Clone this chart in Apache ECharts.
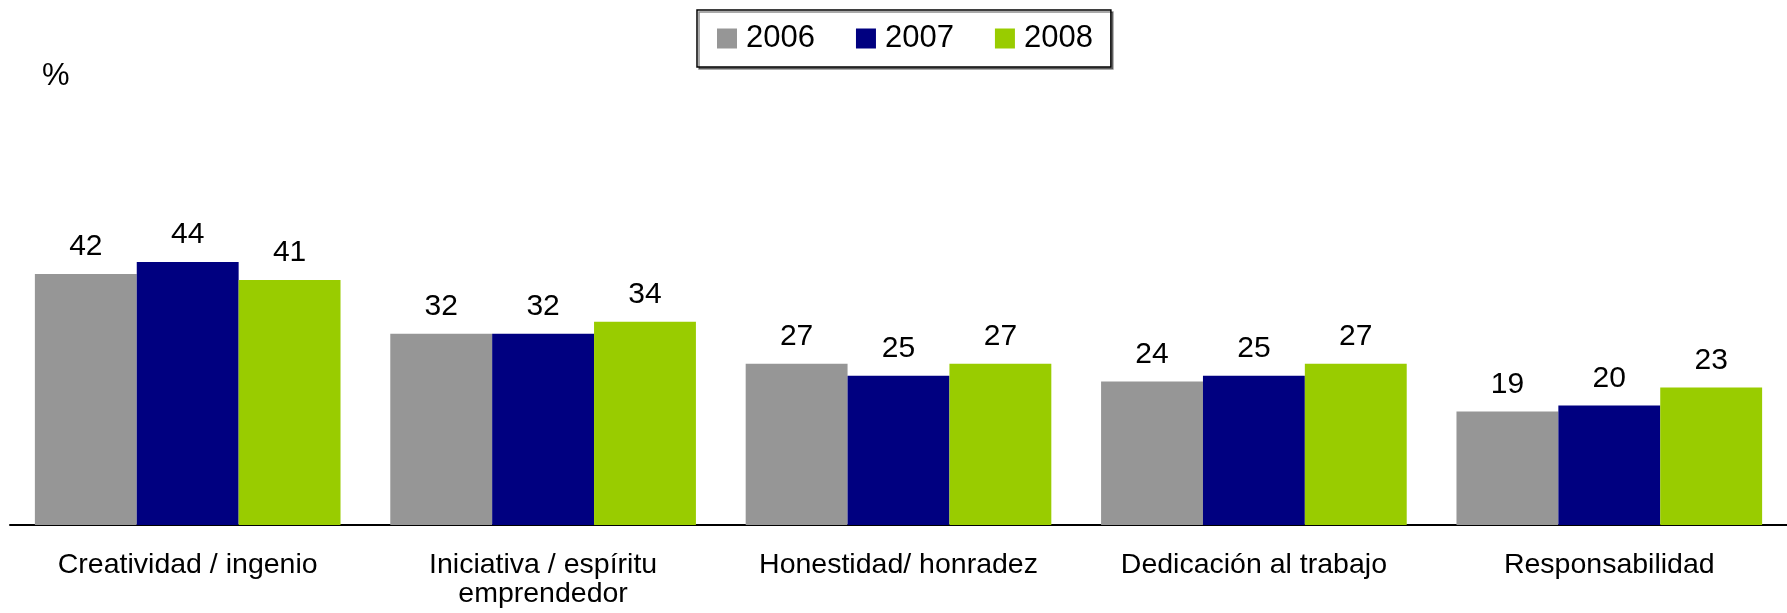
<!DOCTYPE html>
<html>
<head>
<meta charset="utf-8">
<script src="https://cdn.jsdelivr.net/npm/echarts@6/dist/echarts.min.js"></script>
<style>
  html, body { margin: 0; padding: 0; background: #fff; }
  #chart { width: 1787px; height: 613px; }
</style>
</head>
<body>
<div id="chart"></div>
<script>
const categories = [
  'Creatividad / ingenio',
  'Iniciativa / espíritu\nemprendedor',
  'Honestidad/ honradez',
  'Dedicación al trabajo',
  'Responsabilidad'
];
const years = ['2006', '2007', '2008'];
const values2006 = [42, 32, 27, 24, 19];
const values2007 = [44, 32, 25, 25, 20];
const values2008 = [41, 34, 27, 27, 23];
const colors = ['#969696', '#000080', '#99CC00'];

window.addEventListener('DOMContentLoaded', () => {
  const chart = echarts.init(document.querySelector('#chart'));
  const seriesData = [values2006, values2007, values2008];

  chart.setOption({
    animation: false,
    textStyle: { fontFamily: 'Liberation Sans, Arial, sans-serif' },
    title: {
      text: '%',
      left: 37,
      top: 56,
      textStyle: { fontSize: 31, fontWeight: 'normal', color: '#000' }
    },
    legend: {
      data: years,
      left: 697,
      top: 10,
      itemWidth: 20,
      itemHeight: 20,
      itemGap: 41,
      padding: [13, 18, 13, 20],
      borderColor: '#000',
      borderWidth: 1.5,
      shadowColor: 'rgba(0,0,0,0.45)',
      shadowOffsetX: 2,
      shadowOffsetY: 2,
      backgroundColor: '#fff',
      icon: 'rect',
      textStyle: { fontSize: 31, color: '#000', lineHeight: 22, padding: [0, 0, 0, 4] }
    },
    grid: { left: 10, right: 0, top: 47, bottom: 88 },
    xAxis: {
      type: 'category',
      data: categories,
      axisLine: { lineStyle: { color: '#000', width: 2 } },
      axisTick: { show: false },
      axisLabel: {
        interval: 0,
        margin: 26,
        fontSize: 28.5,
        lineHeight: 29,
        color: '#000'
      }
    },
    yAxis: {
      type: 'value',
      min: 0,
      max: 80,
      show: false,
      splitLine: { show: false }
    },
    series: years.map((y, i) => ({
      name: y,
      type: 'bar',
      data: seriesData[i],
      barGap: '0%',
      barCategoryGap: '14%',
      itemStyle: { color: colors[i] },
      label: {
        show: true,
        position: 'top',
        distance: 12,
        fontSize: 30,
        color: '#000'
      }
    }))
  });

  window.addEventListener('resize', () => chart.resize());
});
</script>
</body>
</html>
